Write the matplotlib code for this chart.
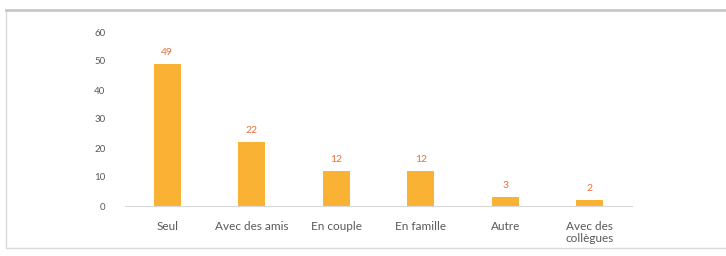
import matplotlib.pyplot as plt
from matplotlib.patches import Rectangle

# data
categories = ['Seul', 'Avec des amis', 'En couple', 'En famille', 'Autre', 'Avec des\ncollègues']
values = [49, 22, 12, 12, 3, 2]
yticks = [0, 10, 20, 30, 40, 50, 60]

bar_color = '#F9B233'
label_color = '#E8703A'
text_grey = '#595959'

plt.rcParams['font.family'] = ['Lato', 'DejaVu Sans']

fig = plt.figure(figsize=(7.26, 2.56), dpi=100)

# outer frame of the chart box
fig.patches.append(Rectangle((6 / 726, 8 / 256), 1.2, 238 / 256, transform=fig.transFigure,
                             fill=False, edgecolor='#d9d9d9', linewidth=1.0))
fig.add_artist(plt.Line2D([6 / 726, 1], [246 / 256, 246 / 256], transform=fig.transFigure,
                          color='#c8c8c8', linewidth=2.0))

ax = fig.add_axes([125 / 726, 50 / 256, 507 / 726, 174 / 256])
x = range(len(categories))
bars = ax.bar(x, values, width=0.32, color=bar_color)

for xi, v in zip(x, values):
    ax.annotate(str(v), (xi, v), xytext=(0, 5), textcoords='offset points',
                ha='center', va='bottom', fontsize=7.5, color=label_color)

ax.set_ylim(0, 60)
ax.set_xlim(-0.5, len(categories) - 0.5)
ax.set_yticks(yticks)
ax.set_xticks(list(x))
ax.set_xticklabels(categories, linespacing=1.1)
ax.tick_params(axis='y', length=0, labelsize=7, labelcolor=text_grey, pad=14)
ax.tick_params(axis='x', length=0, labelsize=8.5, labelcolor=text_grey, pad=11)

for s in ['top', 'right', 'left']:
    ax.spines[s].set_visible(False)
ax.spines['bottom'].set_color('#d9d9d9')
ax.spines['bottom'].set_linewidth(0.8)

fig.savefig('out.png', dpi=100)
